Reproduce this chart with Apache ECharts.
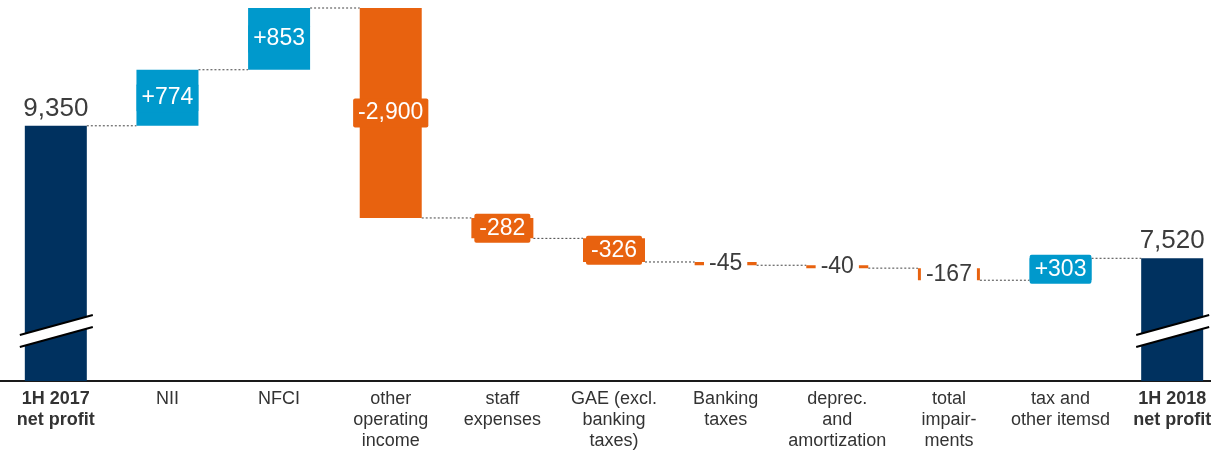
<!DOCTYPE html>
<html>
<head>
<meta charset="utf-8">
<style>
  html, body { margin: 0; padding: 0; background: #fff; }
  #chart { width: 1211px; height: 456px; }
</style>
<script src="https://cdn.jsdelivr.net/npm/echarts@6/dist/echarts.min.js"></script>
</head>
<body>
<div id="chart"></div>
<script>
// Net profit bridge, 1H 2017 -> 1H 2018 (EUR m)
const categories = [
  '1H 2017\nnet profit', 'NII', 'NFCI', 'other\noperating\nincome', 'staff\nexpenses',
  'GAE (excl.\nbanking\ntaxes)', 'Banking\ntaxes', 'deprec.\nand\namortization',
  'total\nimpair-\nments', 'tax and\nother itemsd', '1H 2018\nnet profit'
];
const values = [9350, 774, 853, -2900, -282, -326, -45, -40, -167, 303, 7520];
const totalFlags = [true, false, false, false, false, false, false, false, false, false, true];

const AXIS_MIN = 5825;
const AXIS_MAX = 10977;
const BAR_W = 62;

const NAVY = '#00315F';
const BLUE = '#0099CC';
const ORANGE = '#E8620F';
const TEXT = '#3C3C3C';
const FONT = '"Liberation Sans", Arial, Helvetica, sans-serif';

// running levels
const baseData = [];
const barData = [];
const levels = [];
let level = 0;
values.forEach((v, i) => {
  const isTotal = totalFlags[i];
  let lo, hi, color;
  if (isTotal) {
    lo = 0; hi = v; level = v; color = NAVY;
  } else {
    const start = level;
    level = start + v;
    lo = Math.min(start, level);
    hi = Math.max(start, level);
    color = v >= 0 ? BLUE : ORANGE;
  }
  levels.push(level);
  baseData.push(lo);
  const fmt = (isTotal ? '' : (v >= 0 ? '+' : '-')) + Math.abs(v).toLocaleString('en-US');
  let label;
  if (isTotal) {
    label = { show: true, position: 'top', distance: 4, formatter: fmt,
      fontSize: 26, color: TEXT, fontFamily: FONT };
  } else if (Math.abs(v) < 200) {
    label = { show: true, position: 'inside', formatter: fmt,
      fontSize: 23, color: TEXT, fontFamily: FONT,
      backgroundColor: '#fff', padding: [2, 5] };
  } else {
    label = { show: true, position: 'inside', formatter: fmt,
      fontSize: 23, color: '#fff', fontFamily: FONT,
      backgroundColor: color, padding: [3, 5], borderRadius: 2 };
  }
  barData.push({ value: hi - lo, itemStyle: { color: color }, label: label });
});

// connector segments between neighbouring bars
const connectorData = levels.slice(0, -1).map((lv, i) => [i, lv]);
// axis-break marks on the total bars
const breakData = totalFlags.map((t, i) => t ? [i, AXIS_MIN] : null).filter(Boolean);

const chart = echarts.init(document.getElementById('chart'), null, { renderer: 'canvas' });

chart.setOption({
  animation: false,
  backgroundColor: '#fff',
  grid: { left: 0, top: 8, width: 1228, bottom: 75, containLabel: false, outerBoundsMode: 'none' },
  xAxis: {
    type: 'category',
    data: categories,
    axisTick: { show: false },
    axisLine: { show: true, lineStyle: { color: '#1a1a1a', width: 2 } },
    axisLabel: {
      interval: 0,
      margin: 8,
      fontSize: 18,
      lineHeight: 21,
      color: '#333',
      fontFamily: FONT,
      formatter: (val, idx) => totalFlags[idx] ? '{b|' + val.split('\n').join('}\n{b|') + '}' : val,
      rich: { b: { fontWeight: 'bold', fontSize: 18, lineHeight: 21, color: '#333', fontFamily: FONT } }
    }
  },
  yAxis: {
    type: 'value',
    min: AXIS_MIN,
    max: AXIS_MAX,
    show: false,
    splitLine: { show: false }
  },
  series: [
    {
      type: 'custom',
      name: 'connectors',
      z: 1,
      silent: true,
      data: connectorData,
      renderItem: (params, api) => {
        const p = api.coord([api.value(0), api.value(1)]);
        const step = api.size([1, 0])[0];
        return {
          type: 'line',
          shape: { x1: p[0] + BAR_W / 2, y1: p[1], x2: p[0] + step - BAR_W / 2, y2: p[1] },
          style: { stroke: '#444', lineWidth: 1, lineDash: [2, 2] }
        };
      }
    },
    {
      type: 'bar',
      name: 'base',
      stack: 'wf',
      barWidth: BAR_W,
      itemStyle: { color: 'transparent' },
      emphasis: { disabled: true },
      data: baseData,
      z: 2
    },
    {
      type: 'bar',
      name: 'change',
      stack: 'wf',
      barWidth: BAR_W,
      data: barData,
      z: 3
    },
    {
      type: 'custom',
      name: 'breaks',
      z: 5,
      silent: true,
      data: breakData,
      renderItem: (params, api) => {
        const p = api.coord([api.value(0), api.value(1)]);
        const cx = p[0], y0 = p[1];
        const l = cx - 36, r = cx + 37;
        const u1 = y0 - 46, u2 = y0 - 66, d1 = y0 - 34, d2 = y0 - 54;
        return {
          type: 'group',
          children: [
            { type: 'polygon', shape: { points: [[l, u1], [r, u2], [r, d2], [l, d1]] },
              style: { fill: '#fff' } },
            { type: 'line', shape: { x1: l, y1: u1, x2: r, y2: u2 },
              style: { stroke: '#000', lineWidth: 2 } },
            { type: 'line', shape: { x1: l, y1: d1, x2: r, y2: d2 },
              style: { stroke: '#000', lineWidth: 2 } }
          ]
        };
      }
    }
  ]
});
</script>
</body>
</html>
